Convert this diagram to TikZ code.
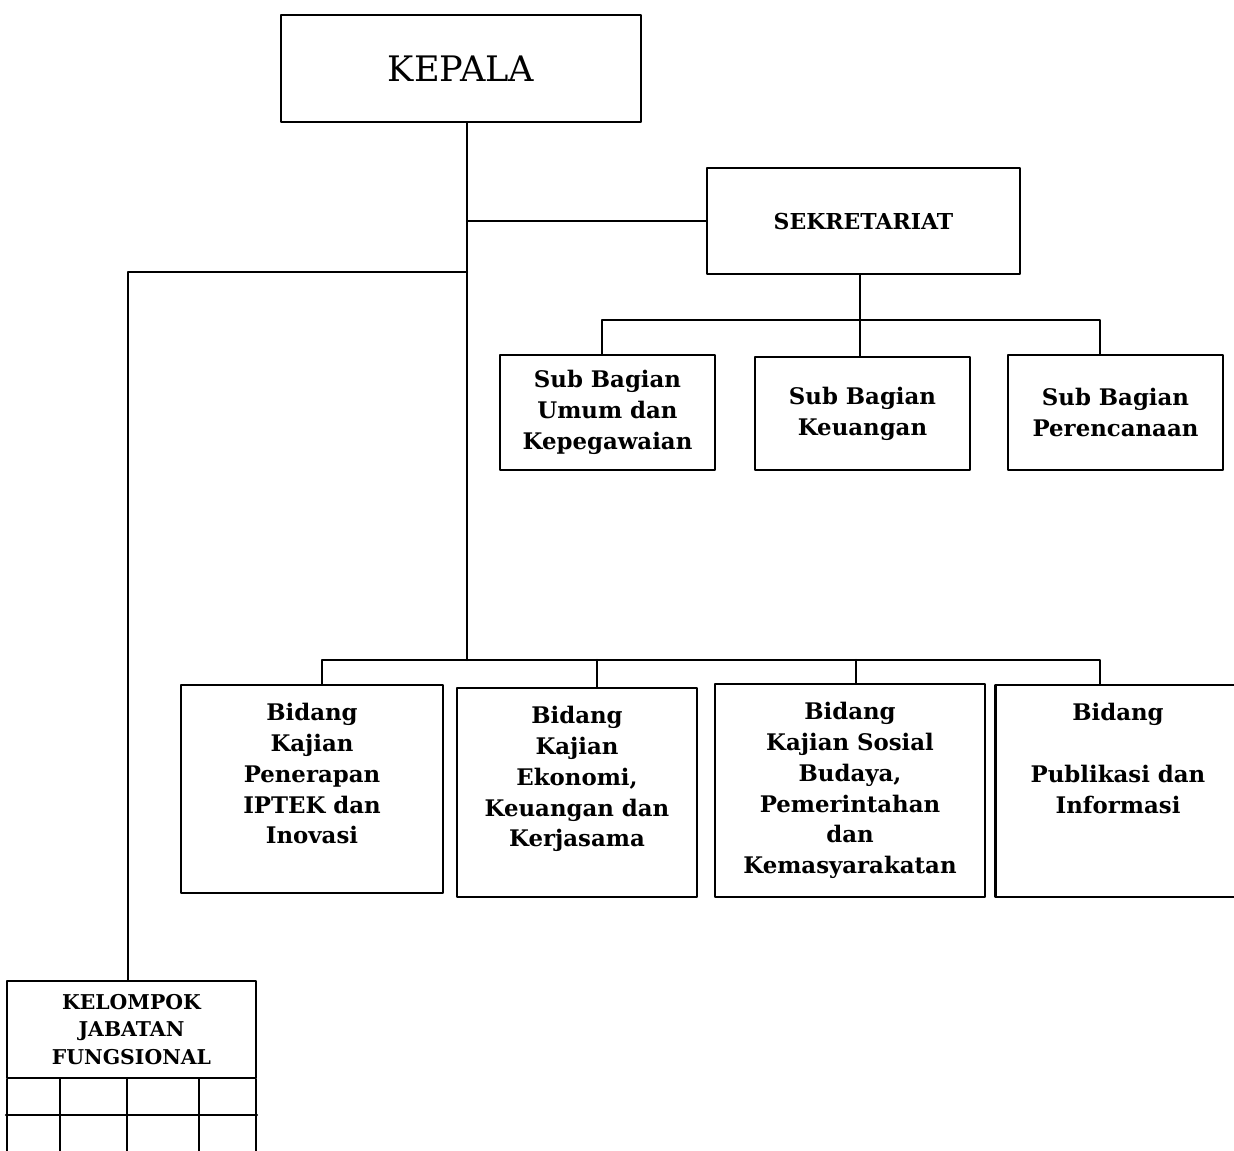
\documentclass[tikz,border=0pt]{standalone}
\usepackage{fontspec}
\setmainfont{DejaVu Serif}
\begin{document}
\begin{tikzpicture}[line join=round, line cap=round, line width=1.2pt, x=0.02cm, y=-0.02cm]
\tikzset{unitbox/.style={draw, align=center, font=\bfseries\fontsize{13}{17.6}\selectfont, inner sep=0pt},
	bidbox/.style={draw, inner sep=0pt},
	bidtext/.style={anchor=north, align=center, yshift=-0.24cm, font=\bfseries\fontsize{13}{17.6}\selectfont}}
\useasboundingbox (0,0) rectangle (1234,1150);
\clip (0,0) rectangle (1234,1150);
% pimpinan dan sekretariat
\node[draw, minimum width=7.2cm, minimum height=2.14cm, font=\fontsize{20}{24}\selectfont] (kepala) at (461,68.5) {KEPALA};
\node[unitbox, minimum width=6.26cm, minimum height=2.12cm, font=\bfseries\fontsize{12.5}{15}\selectfont] (sekr) at (863.5,221) {SEKRETARIAT};
\node[unitbox, minimum width=4.3cm, minimum height=2.3cm] (sub1) at (607.5,412.5) {Sub Bagian\\Umum dan\\Kepegawaian};
\node[unitbox, minimum width=4.3cm, minimum height=2.26cm] (sub2) at (862.5,413.5) {Sub Bagian\\Keuangan};
\node[unitbox, minimum width=4.3cm, minimum height=2.3cm] (sub3) at (1115.5,412.5) {Sub Bagian\\Perencanaan};
% bidang
\node[bidbox, minimum width=5.24cm, minimum height=4.16cm, label={[bidtext]north:Bidang\\Kajian\\Penerapan\\IPTEK dan\\Inovasi}] (bid1) at (312,789) {};
\node[bidbox, minimum width=4.8cm, minimum height=4.18cm, label={[bidtext]north:Bidang\\Kajian\\Ekonomi,\\Keuangan dan\\Kerjasama}] (bid2) at (577,792.5) {};
\node[bidbox, minimum width=5.4cm, minimum height=4.26cm, label={[bidtext]north:Bidang\\Kajian Sosial\\Budaya,\\Pemerintahan\\dan\\Kemasyarakatan}] (bid3) at (850,790.5) {};
\node[bidbox, minimum width=4.9cm, minimum height=4.24cm, label={[bidtext]north:Bidang\\[17.6pt]Publikasi dan\\Informasi}] (bid4) at (1118,791) {};
% kelompok jabatan fungsional
\node[unitbox, minimum width=4.98cm, minimum height=1.94cm, font=\bfseries\fontsize{11.6}{15.6}\selectfont] (kjf) at (131.5,1029.5) {KELOMPOK\\JABATAN\\FUNGSIONAL};
\foreach \x in {7,60,127,199,256} \draw (kjf.south -| \x,0) -- (\x,1170);
\draw (kjf.south west |- 0,1115) -- (kjf.south east |- 0,1115);
% garis komando
\coordinate (bidbus) at (467,660);
\coordinate (subbus) at (860,320);
\coordinate (kjfbus) at (128,272);
\draw (kepala.south -| bidbus) -- (bidbus);
\draw (sekr.west) -- (sekr.west -| bidbus);
\draw (kjfbus -| bidbus) -- (kjfbus) -- (kjf.north -| kjfbus);
\draw (sekr.south -| subbus) -- (subbus);
\draw (sub1.north -| 602,0) |- (subbus) -| (sub3.north -| 1100,0);
\draw (sub2.north -| subbus) -- (subbus);
\draw (bid1.north -| 322,0) |- (bidbus) -| (bid4.north -| 1100,0);
\foreach \b/\x in {bid2/597, bid3/856} \draw (\b.north -| \x,0) -- (\x,660);
\end{tikzpicture}
\end{document}
